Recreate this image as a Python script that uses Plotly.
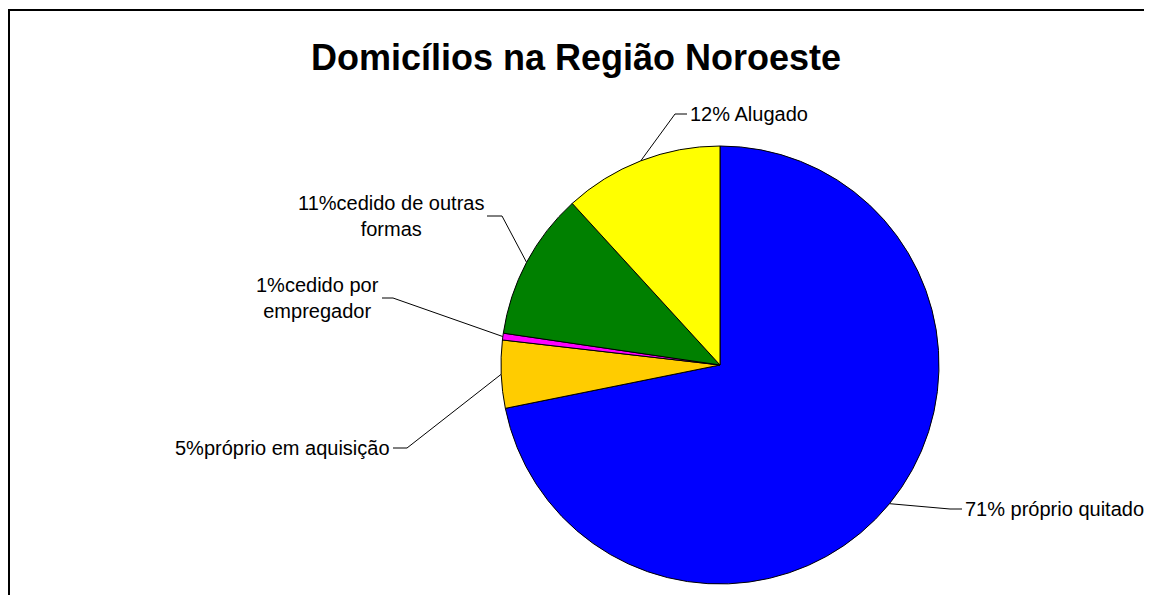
'''
    Pie chart - Domicílios na Região Noroeste
'''
import numpy as np
import plotly.graph_objects as go

# data (clockwise from 12 o'clock)
categorias = ['próprio quitado', 'próprio em aquisição', 'cedido por empregador',
              'cedido de outras formas', 'Alugado']
valores = [71.9, 5.0, 0.5, 10.9, 11.8]
rotulos = ['71% próprio quitado', '5%próprio em aquisição', '1%cedido por<br>empregador',
           '11%cedido de outras<br>formas', '12% Alugado']
cores = ['#0000FF', '#FFCC00', '#FF00FF', '#008000', '#FFFF00']

OFF = 8  # page body margin, so axis coords == screen pixels
W, H = 1152 - OFF, 603 - 2 * OFF
cx, cy, r = 720, 365, 219

# label anchor (elbow) positions in pixels and text alignment
cotovelo = [(950, 509), (407, 448), (393, 298), (502, 216), (675, 114)]
ponta = [(962, 509), (393, 448), (382, 298), (487, 216), (687, 114)]
lado = ['left', 'right', 'right', 'right', 'left']

fig = go.Figure()
fig.add_trace(
    go.Pie(
        labels=categorias,
        values=valores,
        sort=False,
        direction='clockwise',
        rotation=0,
        marker=dict(colors=cores, line=dict(color='black', width=1)),
        textinfo='none',
        hoverinfo='label+percent',
        showlegend=False,
        domain=dict(x=[(cx - r - OFF) / W, (cx + r - OFF) / W],
                    y=[1 - (cy + r - OFF) / H, 1 - (cy - r - OFF) / H]),
    )
)

# leader lines from mid-angle of each slice
frac = np.array(valores) / sum(valores)
meio = (np.cumsum(frac) - frac / 2) * 2 * np.pi
for i, a in enumerate(meio):
    ex, ey = cx + r * np.sin(a), cy - r * np.cos(a)
    fig.add_trace(
        go.Scatter(
            x=[ex, cotovelo[i][0], ponta[i][0]],
            y=[ey, cotovelo[i][1], ponta[i][1]],
            mode='lines',
            line=dict(color='black', width=1),
            hoverinfo='skip',
            showlegend=False,
        )
    )
    fig.add_annotation(
        x=ponta[i][0] + (1 if lado[i] == 'left' else -1),
        y=ponta[i][1],
        xref='x', yref='y',
        text=rotulos[i],
        showarrow=False,
        xanchor=lado[i],
        yanchor='middle',
        align='center',
        font=dict(family='Arial, Liberation Sans', size=20, color='black'),
    )

fig.add_annotation(
    x=576, y=57, xref='x', yref='y',
    text='<b>Domicílios na Região Noroeste</b>',
    showarrow=False,
    xanchor='center', yanchor='middle',
    font=dict(family='Arial, Liberation Sans', size=36, color='black'),
)

fig.add_shape(
    type='rect', xref='x', yref='y',
    x0=9, y0=10, x1=1300, y1=700,
    line=dict(color='black', width=2),
)

fig.update_layout(
    width=W,
    height=H,
    margin=dict(l=0, r=0, t=0, b=0),
    paper_bgcolor='white',
    plot_bgcolor='white',
    xaxis=dict(range=[OFF, W + OFF], visible=False, fixedrange=True),
    yaxis=dict(range=[H + OFF, OFF], visible=False, fixedrange=True),
)

fig.write_html("out.html")
